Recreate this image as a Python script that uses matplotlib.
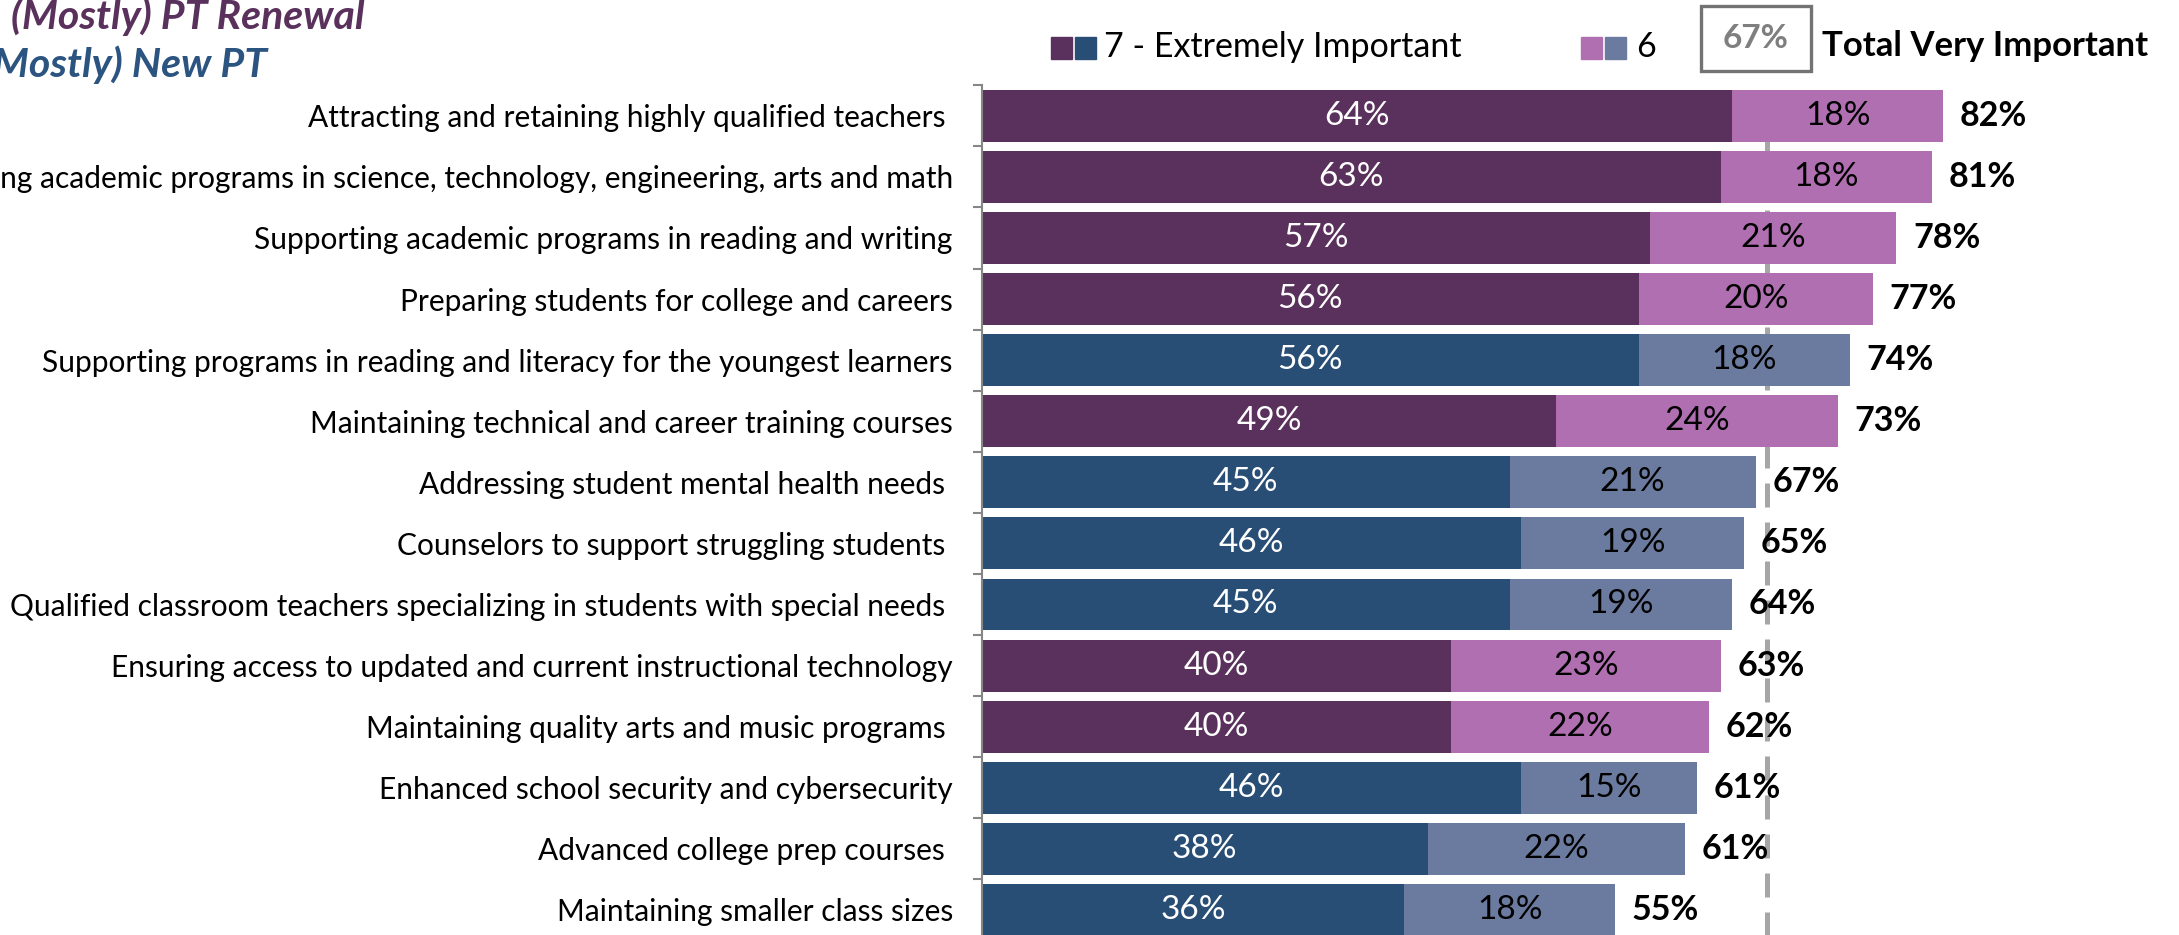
import matplotlib.pyplot as plt
from matplotlib.patches import Rectangle
import numpy as np

plt.rcParams['font.family'] = ['Lato', 'DejaVu Sans']

labels = [
    'Attracting and retaining highly qualified teachers ',
    'Supporting academic programs in science, technology, engineering, arts and math',
    'Supporting academic programs in reading and writing',
    'Preparing students for college and careers',
    'Supporting programs in reading and literacy for the youngest learners',
    'Maintaining technical and career training courses',
    'Addressing student mental health needs ',
    'Counselors to support struggling students ',
    'Qualified classroom teachers specializing in students with special needs ',
    'Ensuring access to updated and current instructional technology',
    'Maintaining quality arts and music programs ',
    'Enhanced school security and cybersecurity',
    'Advanced college prep courses ',
    'Maintaining smaller class sizes',
]
seven = [64, 63, 57, 56, 56, 49, 45, 46, 45, 40, 40, 46, 38, 36]
six = [18, 18, 21, 20, 18, 24, 21, 19, 19, 23, 22, 15, 22, 18]
total = [82, 81, 78, 77, 74, 73, 67, 65, 64, 63, 62, 61, 61, 55]
# R = (mostly) PT renewal, N = (mostly) new PT
group = ['R', 'R', 'R', 'R', 'N', 'R', 'N', 'N', 'N', 'R', 'R', 'N', 'N', 'N']
benchmark = 67

dark = {'R': '#5a315c', 'N': '#294e76'}
light = {'R': '#b06fb0', 'N': '#6b7b9f'}

W, H = 2179, 935
fig = plt.figure(figsize=(W / 100, H / 100), dpi=100)


def fx(px):
    return px / W


def fy(py):
    return 1 - py / H


ax = fig.add_axes([fx(982), fy(940.4), 1 - fx(982), fy(85.3) - fy(940.4)])

y = np.arange(len(labels))
c7 = [dark[g] for g in group]
c6 = [light[g] for g in group]
ax.barh(y, seven, height=0.85, color=c7, zorder=2)
ax.barh(y, six, left=seven, height=0.85, color=c6, zorder=2)

for i in range(len(labels)):
    ax.text(seven[i] / 2, i, f'{seven[i]}%', ha='center', va='center',
            color='white', fontsize=24, zorder=3)
    ax.text(seven[i] + six[i] / 2, i, f'{six[i]}%', ha='center', va='center',
            color='black', fontsize=24, zorder=3)
    ax.annotate(f'{total[i]}%', (seven[i] + six[i], i), xytext=(12, 0),
                textcoords='offset points', ha='left', va='center',
                fontsize=24.5, fontweight='bold', color='black', zorder=3)

ax.axvline(benchmark, color='#a6a6a6', lw=3.6, dashes=(4.8, 3.0), zorder=1)

ax.set_xlim(0, 102.1)
ax.set_ylim(13.5, -0.5)
ax.set_xticks([])
ax.set_yticks(y, labels, fontsize=21.5)
ax.set_yticks(np.arange(-0.5, 14, 1), minor=True)
ax.tick_params(axis='y', which='major', length=0, pad=21)
ax.tick_params(axis='y', which='minor', length=6.5, width=1.5, color='#868686')
for s in ['top', 'right', 'bottom']:
    ax.spines[s].set_visible(False)
ax.spines['left'].set_color('#868686')
ax.spines['left'].set_linewidth(1.5)

# group titles
fig.text(fx(11), fy(17), '(Mostly) PT Renewal', color='#5a315c', fontsize=29.5,
         fontweight='bold', fontstyle='italic', ha='left', va='center')
fig.text(fx(-18), fy(65), '(Mostly) New PT', color='#2b5480', fontsize=29.5,
         fontweight='bold', fontstyle='italic', ha='left', va='center')

# legend
for x0, col in [(1051, dark['R']), (1075, dark['N']), (1581, light['R']), (1605, light['N'])]:
    fig.add_artist(Rectangle((fx(x0), fy(59)), fx(21), fy(37) - fy(59),
                             transform=fig.transFigure, color=col))
fig.text(fx(1104), fy(47), '7 - Extremely Important', fontsize=24.5,
         ha='left', va='center')
fig.text(fx(1636), fy(47), '6', fontsize=24.5, ha='left', va='center')
fig.add_artist(Rectangle((fx(1701), fy(71)), fx(110), fy(6) - fy(71),
                         transform=fig.transFigure, fill=False,
                         edgecolor='#737373', lw=2.4))
fig.text(fx(1756), fy(39), f'{benchmark}%', fontsize=24, fontweight='bold',
         color='#7f7f7f', ha='center', va='center')
fig.text(fx(1822), fy(46), 'Total Very Important', fontsize=25,
         fontweight='bold', ha='left', va='center')

fig.savefig('out.png', dpi=100)
